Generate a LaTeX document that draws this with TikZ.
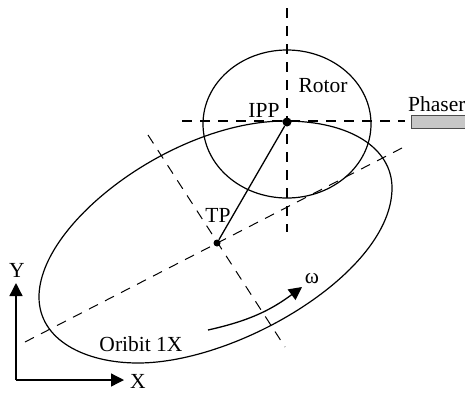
\documentclass[tikz,border=0pt]{standalone}
\usepackage{fontspec}
\setmainfont{Liberation Serif}
\usetikzlibrary{arrows.meta}
\tikzset{
    axisline/.style={dash pattern=on 10pt off 8pt, line width=#1},
    curveline/.style={line width=1.2pt},
    arrowline/.style={line width=1.3pt, -{Triangle[length=13pt,width=13pt]}},
    dotmark/.style={circle, fill=black, inner sep=0pt, minimum size=#1},
    lbl/.style={inner sep=0pt, font=\fontsize{21.5}{21.5}\selectfont}
}
\begin{document}
\begin{tikzpicture}[x=1pt,y=-1pt]
    \useasboundingbox (0,0) rectangle (465,392);

    \coordinate (rotorcentre) at (287,124);

    % dashed axes
    \draw[axisline=1.5pt] (287,8) -- (287,232);
    \draw[axisline=1.5pt] (182,121) -- (405,121);
    \draw[axisline=1pt] (25,342) -- (402,148);
    \draw[axisline=1pt] (148,135) -- (285,347);

    % rotor and orbit
    \draw[curveline] (rotorcentre) ellipse [x radius=84, y radius=74];
    \draw[curveline] (285,121) .. controls (350,121) and (392,148) .. (392,188)
        .. controls (392,272) and (238,363) .. (138,363)
        .. controls (85,363) and (39,340) .. (39,297)
        .. controls (39,222) and (175,121) .. cycle;

    % centres
    \node[dotmark=9pt] (ipp) at (287,122) {};
    \node[dotmark=7pt] (tp) at (217,243) {};
    \draw[line width=1.3pt] (ipp) -- (tp);

    % phaser
    \node[draw=black!70, fill=black!22, line width=1pt, inner sep=0pt, minimum width=60pt, minimum height=13pt, anchor=west] (phaserbox) at (411,122) {};

    % rotation arrow
    \coordinate (omegastart) at (208,330);
    \coordinate (omegaend) at (302,287);
    \draw[arrowline] (omegastart) to[bend right=12] (omegaend);

    % coordinate frame
    \coordinate (frameorigin) at (16,380);
    \coordinate (frameX) at (124,380);
    \coordinate (frameY) at (16,283);
    \draw[arrowline] (frameorigin) -- (frameX);
    \draw[arrowline] (frameorigin) -- (frameY);

    % labels
    \node[lbl] (rotorlabel) at (323,86) {Rotor};
    \node[lbl] (ipplabel) at (264,110) {IPP};
    \node[lbl] (tplabel) at (218,215) {TP};
    \node[lbl, anchor=west] (phaserlabel) at (408,104) {Phaser};
    \node[lbl] (omegalabel) at (312,279) {ω};
    \node[lbl] (orbitlabel) at (141,344) {Oribit 1X};
    \node[lbl] (xlabel) at (138,381) {X};
    \node[lbl] (ylabel) at (17,270) {Y};
\end{tikzpicture}
\end{document}
